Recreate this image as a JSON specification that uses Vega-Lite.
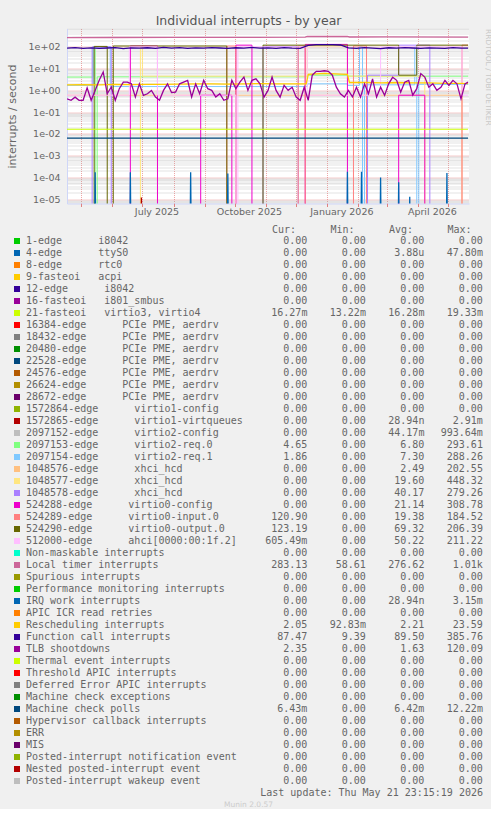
{
  "$schema": "https://vega.github.io/schema/vega-lite/v6.json",
  "background": "#f0f0f0",
  "padding": {"left": 6, "top": 14.5, "right": 0, "bottom": 0},
  "spacing": 7.5,
  "config": {
    "view": {"stroke": null},
    "font": "DejaVu Sans",
    "axis": {"labelFont": "DejaVu Sans", "labelColor": "#666666", "titleFont": "DejaVu Sans", "titleColor": "#666666", "titleFontWeight": "normal", "labelFontSize": 9.5, "titleFontSize": 11, "domainColor": "#CFD6F8", "tickColor": "#e08080"},
    "title": {"font": "DejaVu Sans", "fontWeight": "normal", "color": "#555555"}
  },
  "title": {"text": "Munin 2.0.57", "orient": "bottom", "anchor": "middle", "frame": "bounds", "fontSize": 7.5, "color": "#cccccc", "offset": 3},
  "datasets": {
    "steps": [
      {"t": "2025-04-16", "k": "2097153-edge", "v": 4.1}, {"t": "2025-05-13", "k": "2097153-edge", "v": 100}, {"t": "2025-05-15", "k": "2097153-edge", "v": 0}, {"t": "2025-05-17", "k": "2097153-edge", "v": 4.2}, {"t": "2025-12-12", "k": "2097153-edge", "v": 5.0}, {"t": "2026-01-21", "k": "2097153-edge", "v": 4.5}, {"t": "2026-05-21", "k": "2097153-edge", "v": 4.65},
      {"t": "2025-04-16", "k": "2097154-edge", "v": 1.7}, {"t": "2025-05-13", "k": "2097154-edge", "v": 100}, {"t": "2025-05-30", "k": "2097154-edge", "v": 1.5}, {"t": "2025-12-12", "k": "2097154-edge", "v": 2.0}, {"t": "2026-01-21", "k": "2097154-edge", "v": 1.7}, {"t": "2026-02-02", "k": "2097154-edge", "v": 100}, {"t": "2026-02-05", "k": "2097154-edge", "v": 0}, {"t": "2026-02-07", "k": "2097154-edge", "v": 1.8}, {"t": "2026-03-29", "k": "2097154-edge", "v": 100}, {"t": "2026-03-31", "k": "2097154-edge", "v": 0}, {"t": "2026-04-02", "k": "2097154-edge", "v": 1.9}, {"t": "2026-05-21", "k": "2097154-edge", "v": 1.86},
      {"t": "2025-04-16", "k": "1048576-edge", "v": 0.6}, {"t": "2026-05-15", "k": "1048576-edge", "v": 0}, {"t": "2026-05-21", "k": "1048576-edge", "v": 0},
      {"t": "2025-04-16", "k": "1048577-edge", "v": 0}, {"t": "2025-06-29", "k": "1048577-edge", "v": 100}, {"t": "2025-07-01", "k": "1048577-edge", "v": 4.5}, {"t": "2025-12-12", "k": "1048577-edge", "v": 110}, {"t": "2026-01-21", "k": "1048577-edge", "v": 4.5}, {"t": "2026-04-08", "k": "1048577-edge", "v": 0}, {"t": "2026-05-21", "k": "1048577-edge", "v": 0},
      {"t": "2025-04-16", "k": "1048578-edge", "v": 0}, {"t": "2025-05-12", "k": "1048578-edge", "v": 100}, {"t": "2025-05-31", "k": "1048578-edge", "v": 0}, {"t": "2025-10-29", "k": "1048578-edge", "v": 105}, {"t": "2025-12-03", "k": "1048578-edge", "v": 0}, {"t": "2026-02-10", "k": "1048578-edge", "v": 5}, {"t": "2026-03-13", "k": "1048578-edge", "v": 120}, {"t": "2026-04-13", "k": "1048578-edge", "v": 0}, {"t": "2026-05-21", "k": "1048578-edge", "v": 0},
      {"t": "2025-04-16", "k": "524288-edge", "v": 0}, {"t": "2025-06-19", "k": "524288-edge", "v": 110}, {"t": "2025-07-16", "k": "524288-edge", "v": 0}, {"t": "2025-08-28", "k": "524288-edge", "v": 0.6}, {"t": "2025-09-28", "k": "524288-edge", "v": 0}, {"t": "2025-10-02", "k": "524288-edge", "v": 120}, {"t": "2025-10-18", "k": "524288-edge", "v": 0}, {"t": "2025-12-10", "k": "524288-edge", "v": 130}, {"t": "2026-01-21", "k": "524288-edge", "v": 0}, {"t": "2026-03-13", "k": "524288-edge", "v": 0.6}, {"t": "2026-04-08", "k": "524288-edge", "v": 0}, {"t": "2026-05-21", "k": "524288-edge", "v": 0},
      {"t": "2025-04-16", "k": "524289-edge", "v": 0}, {"t": "2025-09-23", "k": "524289-edge", "v": 110}, {"t": "2025-10-02", "k": "524289-edge", "v": 0}, {"t": "2025-12-03", "k": "524289-edge", "v": 110}, {"t": "2025-12-10", "k": "524289-edge", "v": 0}, {"t": "2026-01-27", "k": "524289-edge", "v": 110}, {"t": "2026-02-09", "k": "524289-edge", "v": 0}, {"t": "2026-05-15", "k": "524289-edge", "v": 121}, {"t": "2026-05-21", "k": "524289-edge", "v": 120.9},
      {"t": "2025-04-16", "k": "524290-edge", "v": 0}, {"t": "2025-05-14", "k": "524290-edge", "v": 105}, {"t": "2025-05-27", "k": "524290-edge", "v": 0}, {"t": "2025-06-02", "k": "524290-edge", "v": 110}, {"t": "2025-09-23", "k": "524290-edge", "v": 0}, {"t": "2025-10-29", "k": "524290-edge", "v": 120}, {"t": "2026-03-13", "k": "524290-edge", "v": 5}, {"t": "2026-03-31", "k": "524290-edge", "v": 120}, {"t": "2026-05-21", "k": "524290-edge", "v": 123},
      {"t": "2025-04-16", "k": "512000-edge", "v": 0.6}, {"t": "2025-06-18", "k": "512000-edge", "v": 100}, {"t": "2025-07-16", "k": "512000-edge", "v": 0.6}, {"t": "2025-10-02", "k": "512000-edge", "v": 0}, {"t": "2025-10-04", "k": "512000-edge", "v": 100}, {"t": "2025-12-12", "k": "512000-edge", "v": 0.6}, {"t": "2026-02-23", "k": "512000-edge", "v": 100}, {"t": "2026-05-15", "k": "512000-edge", "v": 0.6}, {"t": "2026-05-21", "k": "512000-edge", "v": 0.6}
    ],
    "lines": [
      {"t": "2025-04-16", "k": "Local timer interrupts", "v": 268}, {"t": "2025-06-01", "k": "Local timer interrupts", "v": 270}, {"t": "2025-08-01", "k": "Local timer interrupts", "v": 272}, {"t": "2025-10-01", "k": "Local timer interrupts", "v": 275}, {"t": "2025-12-10", "k": "Local timer interrupts", "v": 278}, {"t": "2025-12-12", "k": "Local timer interrupts", "v": 300}, {"t": "2026-01-21", "k": "Local timer interrupts", "v": 302}, {"t": "2026-01-23", "k": "Local timer interrupts", "v": 285}, {"t": "2026-03-01", "k": "Local timer interrupts", "v": 286}, {"t": "2026-05-21", "k": "Local timer interrupts", "v": 283},
      {"t": "2025-04-17", "k": "Function call interrupts", "v": 88}, {"t": "2025-04-25", "k": "Function call interrupts", "v": 92}, {"t": "2025-05-03", "k": "Function call interrupts", "v": 86}, {"t": "2025-05-11", "k": "Function call interrupts", "v": 90}, {"t": "2025-05-19", "k": "Function call interrupts", "v": 85}, {"t": "2025-05-27", "k": "Function call interrupts", "v": 89}, {"t": "2025-06-04", "k": "Function call interrupts", "v": 93}, {"t": "2025-06-12", "k": "Function call interrupts", "v": 84}, {"t": "2025-06-20", "k": "Function call interrupts", "v": 90}, {"t": "2025-06-28", "k": "Function call interrupts", "v": 87}, {"t": "2025-07-06", "k": "Function call interrupts", "v": 91}, {"t": "2025-07-14", "k": "Function call interrupts", "v": 86}, {"t": "2025-07-22", "k": "Function call interrupts", "v": 95}, {"t": "2025-07-30", "k": "Function call interrupts", "v": 88}, {"t": "2025-08-07", "k": "Function call interrupts", "v": 92}, {"t": "2025-08-15", "k": "Function call interrupts", "v": 85}, {"t": "2025-08-23", "k": "Function call interrupts", "v": 90}, {"t": "2025-08-31", "k": "Function call interrupts", "v": 87}, {"t": "2025-09-08", "k": "Function call interrupts", "v": 93}, {"t": "2025-09-16", "k": "Function call interrupts", "v": 89}, {"t": "2025-09-24", "k": "Function call interrupts", "v": 86}, {"t": "2025-10-02", "k": "Function call interrupts", "v": 91}, {"t": "2025-10-10", "k": "Function call interrupts", "v": 88}, {"t": "2025-10-18", "k": "Function call interrupts", "v": 94}, {"t": "2025-10-26", "k": "Function call interrupts", "v": 87}, {"t": "2025-11-03", "k": "Function call interrupts", "v": 90}, {"t": "2025-11-11", "k": "Function call interrupts", "v": 85}, {"t": "2025-11-19", "k": "Function call interrupts", "v": 92}, {"t": "2025-11-27", "k": "Function call interrupts", "v": 88}, {"t": "2025-12-05", "k": "Function call interrupts", "v": 86}, {"t": "2025-12-13", "k": "Function call interrupts", "v": 118}, {"t": "2025-12-21", "k": "Function call interrupts", "v": 126}, {"t": "2025-12-29", "k": "Function call interrupts", "v": 128}, {"t": "2026-01-06", "k": "Function call interrupts", "v": 127}, {"t": "2026-01-14", "k": "Function call interrupts", "v": 122}, {"t": "2026-01-22", "k": "Function call interrupts", "v": 90}, {"t": "2026-01-30", "k": "Function call interrupts", "v": 86}, {"t": "2026-02-07", "k": "Function call interrupts", "v": 92}, {"t": "2026-02-15", "k": "Function call interrupts", "v": 88}, {"t": "2026-02-23", "k": "Function call interrupts", "v": 84}, {"t": "2026-03-03", "k": "Function call interrupts", "v": 91}, {"t": "2026-03-11", "k": "Function call interrupts", "v": 87}, {"t": "2026-03-19", "k": "Function call interrupts", "v": 93}, {"t": "2026-03-27", "k": "Function call interrupts", "v": 89}, {"t": "2026-04-04", "k": "Function call interrupts", "v": 85}, {"t": "2026-04-12", "k": "Function call interrupts", "v": 90}, {"t": "2026-04-20", "k": "Function call interrupts", "v": 88}, {"t": "2026-04-28", "k": "Function call interrupts", "v": 86}, {"t": "2026-05-06", "k": "Function call interrupts", "v": 92}, {"t": "2026-05-14", "k": "Function call interrupts", "v": 87}, {"t": "2026-05-21", "k": "Function call interrupts", "v": 87.5},
      {"t": "2025-04-17", "k": "Rescheduling interrupts", "v": 1.8}, {"t": "2025-05-03", "k": "Rescheduling interrupts", "v": 1.85}, {"t": "2025-05-19", "k": "Rescheduling interrupts", "v": 1.8}, {"t": "2025-06-04", "k": "Rescheduling interrupts", "v": 1.9}, {"t": "2025-06-20", "k": "Rescheduling interrupts", "v": 1.85}, {"t": "2025-07-06", "k": "Rescheduling interrupts", "v": 1.9}, {"t": "2025-07-22", "k": "Rescheduling interrupts", "v": 1.9}, {"t": "2025-08-07", "k": "Rescheduling interrupts", "v": 1.95}, {"t": "2025-08-23", "k": "Rescheduling interrupts", "v": 2.0}, {"t": "2025-09-08", "k": "Rescheduling interrupts", "v": 2.0}, {"t": "2025-09-24", "k": "Rescheduling interrupts", "v": 1.95}, {"t": "2025-10-10", "k": "Rescheduling interrupts", "v": 2.0}, {"t": "2025-10-26", "k": "Rescheduling interrupts", "v": 2.05}, {"t": "2025-11-11", "k": "Rescheduling interrupts", "v": 2.0}, {"t": "2025-11-27", "k": "Rescheduling interrupts", "v": 2.0}, {"t": "2025-12-11", "k": "Rescheduling interrupts", "v": 2.0}, {"t": "2025-12-13", "k": "Rescheduling interrupts", "v": 5.5}, {"t": "2025-12-29", "k": "Rescheduling interrupts", "v": 6.0}, {"t": "2026-01-14", "k": "Rescheduling interrupts", "v": 5.6}, {"t": "2026-01-21", "k": "Rescheduling interrupts", "v": 5.4}, {"t": "2026-01-23", "k": "Rescheduling interrupts", "v": 2.3}, {"t": "2026-02-08", "k": "Rescheduling interrupts", "v": 2.3}, {"t": "2026-02-24", "k": "Rescheduling interrupts", "v": 2.2}, {"t": "2026-03-12", "k": "Rescheduling interrupts", "v": 2.3}, {"t": "2026-03-28", "k": "Rescheduling interrupts", "v": 2.2}, {"t": "2026-04-13", "k": "Rescheduling interrupts", "v": 2.2}, {"t": "2026-04-29", "k": "Rescheduling interrupts", "v": 2.1}, {"t": "2026-05-15", "k": "Rescheduling interrupts", "v": 2.1}, {"t": "2026-05-21", "k": "Rescheduling interrupts", "v": 2.05},
      {"t": "2025-04-16", "k": "4-edge", "v": 0}, {"t": "2025-05-14", "k": "4-edge", "v": 0}, {"t": "2025-05-15", "k": "4-edge", "v": 0.00017}, {"t": "2025-05-16", "k": "4-edge", "v": 0}, {"t": "2025-06-18", "k": "4-edge", "v": 0}, {"t": "2025-06-19", "k": "4-edge", "v": 0.00017}, {"t": "2025-06-20", "k": "4-edge", "v": 0}, {"t": "2025-08-17", "k": "4-edge", "v": 0}, {"t": "2025-08-18", "k": "4-edge", "v": 0.00017}, {"t": "2025-08-19", "k": "4-edge", "v": 0}, {"t": "2025-09-23", "k": "4-edge", "v": 0}, {"t": "2025-09-24", "k": "4-edge", "v": 0.00015}, {"t": "2025-09-25", "k": "4-edge", "v": 0}, {"t": "2026-01-20", "k": "4-edge", "v": 0}, {"t": "2026-01-21", "k": "4-edge", "v": 0.00018}, {"t": "2026-01-22", "k": "4-edge", "v": 0}, {"t": "2026-02-03", "k": "4-edge", "v": 0}, {"t": "2026-02-04", "k": "4-edge", "v": 0.00018}, {"t": "2026-02-05", "k": "4-edge", "v": 0}, {"t": "2026-02-22", "k": "4-edge", "v": 0}, {"t": "2026-02-23", "k": "4-edge", "v": 0.0001}, {"t": "2026-02-24", "k": "4-edge", "v": 0}, {"t": "2026-03-12", "k": "4-edge", "v": 0}, {"t": "2026-03-13", "k": "4-edge", "v": 0.00006}, {"t": "2026-03-14", "k": "4-edge", "v": 0}, {"t": "2026-03-23", "k": "4-edge", "v": 0}, {"t": "2026-03-24", "k": "4-edge", "v": 0.000013}, {"t": "2026-03-25", "k": "4-edge", "v": 0}, {"t": "2026-04-29", "k": "4-edge", "v": 0}, {"t": "2026-04-30", "k": "4-edge", "v": 0.00016}, {"t": "2026-05-01", "k": "4-edge", "v": 0}, {"t": "2026-05-21", "k": "4-edge", "v": 0},
      {"t": "2025-04-16", "k": "1572865-edge", "v": 0}, {"t": "2025-06-29", "k": "1572865-edge", "v": 0}, {"t": "2025-06-30", "k": "1572865-edge", "v": 0.000012}, {"t": "2025-07-01", "k": "1572865-edge", "v": 0}, {"t": "2026-05-21", "k": "1572865-edge", "v": 0},
      {"t": "2025-04-17", "k": "TLB shootdowns", "v": 0.41}, {"t": "2025-04-21", "k": "TLB shootdowns", "v": 0.35}, {"t": "2025-04-25", "k": "TLB shootdowns", "v": 0.49}, {"t": "2025-04-29", "k": "TLB shootdowns", "v": 0.35}, {"t": "2025-05-03", "k": "TLB shootdowns", "v": 0.35}, {"t": "2025-05-07", "k": "TLB shootdowns", "v": 1.3}, {"t": "2025-05-11", "k": "TLB shootdowns", "v": 0.35}, {"t": "2025-05-15", "k": "TLB shootdowns", "v": 1.0}, {"t": "2025-05-19", "k": "TLB shootdowns", "v": 2.9}, {"t": "2025-05-23", "k": "TLB shootdowns", "v": 7.0}, {"t": "2025-05-27", "k": "TLB shootdowns", "v": 0.7}, {"t": "2025-05-31", "k": "TLB shootdowns", "v": 1.43}, {"t": "2025-06-04", "k": "TLB shootdowns", "v": 0.35}, {"t": "2025-06-08", "k": "TLB shootdowns", "v": 1.2}, {"t": "2025-06-12", "k": "TLB shootdowns", "v": 2.4}, {"t": "2025-06-16", "k": "TLB shootdowns", "v": 2.4}, {"t": "2025-06-20", "k": "TLB shootdowns", "v": 2.0}, {"t": "2025-06-24", "k": "TLB shootdowns", "v": 0.49}, {"t": "2025-06-28", "k": "TLB shootdowns", "v": 2.0}, {"t": "2025-07-02", "k": "TLB shootdowns", "v": 0.59}, {"t": "2025-07-06", "k": "TLB shootdowns", "v": 0.7}, {"t": "2025-07-10", "k": "TLB shootdowns", "v": 1.0}, {"t": "2025-07-14", "k": "TLB shootdowns", "v": 0.49}, {"t": "2025-07-18", "k": "TLB shootdowns", "v": 0.35}, {"t": "2025-07-22", "k": "TLB shootdowns", "v": 1.0}, {"t": "2025-07-26", "k": "TLB shootdowns", "v": 2.0}, {"t": "2025-07-30", "k": "TLB shootdowns", "v": 0.8}, {"t": "2025-08-03", "k": "TLB shootdowns", "v": 0.84}, {"t": "2025-08-07", "k": "TLB shootdowns", "v": 2.0}, {"t": "2025-08-11", "k": "TLB shootdowns", "v": 2.4}, {"t": "2025-08-15", "k": "TLB shootdowns", "v": 2.9}, {"t": "2025-08-19", "k": "TLB shootdowns", "v": 0.5}, {"t": "2025-08-23", "k": "TLB shootdowns", "v": 2.0}, {"t": "2025-08-27", "k": "TLB shootdowns", "v": 0.7}, {"t": "2025-08-31", "k": "TLB shootdowns", "v": 2.9}, {"t": "2025-09-04", "k": "TLB shootdowns", "v": 1.2}, {"t": "2025-09-08", "k": "TLB shootdowns", "v": 1.0}, {"t": "2025-09-12", "k": "TLB shootdowns", "v": 0.49}, {"t": "2025-09-16", "k": "TLB shootdowns", "v": 0.7}, {"t": "2025-09-20", "k": "TLB shootdowns", "v": 0.35}, {"t": "2025-09-24", "k": "TLB shootdowns", "v": 0.41}, {"t": "2025-09-28", "k": "TLB shootdowns", "v": 2.9}, {"t": "2025-10-02", "k": "TLB shootdowns", "v": 1.2}, {"t": "2025-10-06", "k": "TLB shootdowns", "v": 2.4}, {"t": "2025-10-10", "k": "TLB shootdowns", "v": 4.1}, {"t": "2025-10-14", "k": "TLB shootdowns", "v": 1.0}, {"t": "2025-10-18", "k": "TLB shootdowns", "v": 2.9}, {"t": "2025-10-22", "k": "TLB shootdowns", "v": 3.4}, {"t": "2025-10-26", "k": "TLB shootdowns", "v": 2.0}, {"t": "2025-10-30", "k": "TLB shootdowns", "v": 0.49}, {"t": "2025-11-03", "k": "TLB shootdowns", "v": 1.0}, {"t": "2025-11-07", "k": "TLB shootdowns", "v": 4.1}, {"t": "2025-11-11", "k": "TLB shootdowns", "v": 1.0}, {"t": "2025-11-15", "k": "TLB shootdowns", "v": 0.49}, {"t": "2025-11-19", "k": "TLB shootdowns", "v": 1.7}, {"t": "2025-11-23", "k": "TLB shootdowns", "v": 1.0}, {"t": "2025-11-27", "k": "TLB shootdowns", "v": 1.4}, {"t": "2025-12-01", "k": "TLB shootdowns", "v": 0.49}, {"t": "2025-12-05", "k": "TLB shootdowns", "v": 0.35}, {"t": "2025-12-09", "k": "TLB shootdowns", "v": 1.4}, {"t": "2025-12-13", "k": "TLB shootdowns", "v": 0.35}, {"t": "2025-12-17", "k": "TLB shootdowns", "v": 5.0}, {"t": "2025-12-21", "k": "TLB shootdowns", "v": 7.5}, {"t": "2025-12-25", "k": "TLB shootdowns", "v": 7.5}, {"t": "2025-12-29", "k": "TLB shootdowns", "v": 8.0}, {"t": "2026-01-02", "k": "TLB shootdowns", "v": 7.5}, {"t": "2026-01-06", "k": "TLB shootdowns", "v": 5.0}, {"t": "2026-01-10", "k": "TLB shootdowns", "v": 1.4}, {"t": "2026-01-14", "k": "TLB shootdowns", "v": 0.7}, {"t": "2026-01-18", "k": "TLB shootdowns", "v": 0.49}, {"t": "2026-01-22", "k": "TLB shootdowns", "v": 1.0}, {"t": "2026-01-26", "k": "TLB shootdowns", "v": 0.5}, {"t": "2026-01-30", "k": "TLB shootdowns", "v": 1.4}, {"t": "2026-02-03", "k": "TLB shootdowns", "v": 0.49}, {"t": "2026-02-07", "k": "TLB shootdowns", "v": 2.0}, {"t": "2026-02-11", "k": "TLB shootdowns", "v": 0.7}, {"t": "2026-02-15", "k": "TLB shootdowns", "v": 3.4}, {"t": "2026-02-19", "k": "TLB shootdowns", "v": 0.49}, {"t": "2026-02-23", "k": "TLB shootdowns", "v": 1.4}, {"t": "2026-02-27", "k": "TLB shootdowns", "v": 0.59}, {"t": "2026-03-03", "k": "TLB shootdowns", "v": 2.0}, {"t": "2026-03-07", "k": "TLB shootdowns", "v": 4.0}, {"t": "2026-03-11", "k": "TLB shootdowns", "v": 2.9}, {"t": "2026-03-15", "k": "TLB shootdowns", "v": 0.84}, {"t": "2026-03-19", "k": "TLB shootdowns", "v": 2.4}, {"t": "2026-03-23", "k": "TLB shootdowns", "v": 2.9}, {"t": "2026-03-27", "k": "TLB shootdowns", "v": 0.6}, {"t": "2026-03-31", "k": "TLB shootdowns", "v": 1.2}, {"t": "2026-04-04", "k": "TLB shootdowns", "v": 5.9}, {"t": "2026-04-08", "k": "TLB shootdowns", "v": 4.1}, {"t": "2026-04-12", "k": "TLB shootdowns", "v": 1.4}, {"t": "2026-04-16", "k": "TLB shootdowns", "v": 2.0}, {"t": "2026-04-20", "k": "TLB shootdowns", "v": 1.0}, {"t": "2026-04-24", "k": "TLB shootdowns", "v": 1.4}, {"t": "2026-04-28", "k": "TLB shootdowns", "v": 2.9}, {"t": "2026-05-02", "k": "TLB shootdowns", "v": 1.7}, {"t": "2026-05-06", "k": "TLB shootdowns", "v": 2.9}, {"t": "2026-05-10", "k": "TLB shootdowns", "v": 2.0}, {"t": "2026-05-14", "k": "TLB shootdowns", "v": 0.41}, {"t": "2026-05-18", "k": "TLB shootdowns", "v": 2.0}, {"t": "2026-05-21", "k": "TLB shootdowns", "v": 2.4}
    ],
    "flat": [
      {"t": "2025-04-16", "k": "21-fasteoi", "v": 0.0163}, {"t": "2026-05-21", "k": "21-fasteoi", "v": 0.0163},
      {"t": "2025-04-16", "k": "Machine check polls", "v": 0.0064}, {"t": "2026-05-21", "k": "Machine check polls", "v": 0.0064}
    ],
    "legend": [
      {"k": "1-edge", "label": "1-edge\u00a0\u00a0\u00a0\u00a0\u00a0\u00a0i8042", "cur": "0.00", "min": "0.00", "avg": "0.00", "max": "0.00"},
      {"k": "4-edge", "label": "4-edge\u00a0\u00a0\u00a0\u00a0\u00a0\u00a0ttyS0", "cur": "0.00", "min": "0.00", "avg": "3.88u", "max": "47.80m"},
      {"k": "8-edge", "label": "8-edge\u00a0\u00a0\u00a0\u00a0\u00a0\u00a0rtc0", "cur": "0.00", "min": "0.00", "avg": "0.00", "max": "0.00"},
      {"k": "9-fasteoi", "label": "9-fasteoi\u00a0\u00a0\u00a0acpi", "cur": "0.00", "min": "0.00", "avg": "0.00", "max": "0.00"},
      {"k": "12-edge", "label": "12-edge\u00a0\u00a0\u00a0\u00a0\u00a0\u00a0i8042", "cur": "0.00", "min": "0.00", "avg": "0.00", "max": "0.00"},
      {"k": "16-fasteoi", "label": "16-fasteoi\u00a0\u00a0\u00a0i801_smbus", "cur": "0.00", "min": "0.00", "avg": "0.00", "max": "0.00"},
      {"k": "21-fasteoi", "label": "21-fasteoi\u00a0\u00a0\u00a0virtio3, virtio4", "cur": "16.27m", "min": "13.22m", "avg": "16.28m", "max": "19.33m"},
      {"k": "16384-edge", "label": "16384-edge\u00a0\u00a0\u00a0\u00a0\u00a0\u00a0PCIe PME, aerdrv", "cur": "0.00", "min": "0.00", "avg": "0.00", "max": "0.00"},
      {"k": "18432-edge", "label": "18432-edge\u00a0\u00a0\u00a0\u00a0\u00a0\u00a0PCIe PME, aerdrv", "cur": "0.00", "min": "0.00", "avg": "0.00", "max": "0.00"},
      {"k": "20480-edge", "label": "20480-edge\u00a0\u00a0\u00a0\u00a0\u00a0\u00a0PCIe PME, aerdrv", "cur": "0.00", "min": "0.00", "avg": "0.00", "max": "0.00"},
      {"k": "22528-edge", "label": "22528-edge\u00a0\u00a0\u00a0\u00a0\u00a0\u00a0PCIe PME, aerdrv", "cur": "0.00", "min": "0.00", "avg": "0.00", "max": "0.00"},
      {"k": "24576-edge", "label": "24576-edge\u00a0\u00a0\u00a0\u00a0\u00a0\u00a0PCIe PME, aerdrv", "cur": "0.00", "min": "0.00", "avg": "0.00", "max": "0.00"},
      {"k": "26624-edge", "label": "26624-edge\u00a0\u00a0\u00a0\u00a0\u00a0\u00a0PCIe PME, aerdrv", "cur": "0.00", "min": "0.00", "avg": "0.00", "max": "0.00"},
      {"k": "28672-edge", "label": "28672-edge\u00a0\u00a0\u00a0\u00a0\u00a0\u00a0PCIe PME, aerdrv", "cur": "0.00", "min": "0.00", "avg": "0.00", "max": "0.00"},
      {"k": "1572864-edge", "label": "1572864-edge\u00a0\u00a0\u00a0\u00a0\u00a0\u00a0virtio1-config", "cur": "0.00", "min": "0.00", "avg": "0.00", "max": "0.00"},
      {"k": "1572865-edge", "label": "1572865-edge\u00a0\u00a0\u00a0\u00a0\u00a0\u00a0virtio1-virtqueues", "cur": "0.00", "min": "0.00", "avg": "28.94n", "max": "2.91m"},
      {"k": "2097152-edge", "label": "2097152-edge\u00a0\u00a0\u00a0\u00a0\u00a0\u00a0virtio2-config", "cur": "0.00", "min": "0.00", "avg": "44.17m", "max": "993.64m"},
      {"k": "2097153-edge", "label": "2097153-edge\u00a0\u00a0\u00a0\u00a0\u00a0\u00a0virtio2-req.0", "cur": "4.65", "min": "0.00", "avg": "6.80", "max": "293.61"},
      {"k": "2097154-edge", "label": "2097154-edge\u00a0\u00a0\u00a0\u00a0\u00a0\u00a0virtio2-req.1", "cur": "1.86", "min": "0.00", "avg": "7.30", "max": "288.26"},
      {"k": "1048576-edge", "label": "1048576-edge\u00a0\u00a0\u00a0\u00a0\u00a0\u00a0xhci_hcd", "cur": "0.00", "min": "0.00", "avg": "2.49", "max": "202.55"},
      {"k": "1048577-edge", "label": "1048577-edge\u00a0\u00a0\u00a0\u00a0\u00a0\u00a0xhci_hcd", "cur": "0.00", "min": "0.00", "avg": "19.60", "max": "448.32"},
      {"k": "1048578-edge", "label": "1048578-edge\u00a0\u00a0\u00a0\u00a0\u00a0\u00a0xhci_hcd", "cur": "0.00", "min": "0.00", "avg": "40.17", "max": "279.26"},
      {"k": "524288-edge", "label": "524288-edge\u00a0\u00a0\u00a0\u00a0\u00a0\u00a0virtio0-config", "cur": "0.00", "min": "0.00", "avg": "21.14", "max": "308.78"},
      {"k": "524289-edge", "label": "524289-edge\u00a0\u00a0\u00a0\u00a0\u00a0\u00a0virtio0-input.0", "cur": "120.90", "min": "0.00", "avg": "19.38", "max": "184.52"},
      {"k": "524290-edge", "label": "524290-edge\u00a0\u00a0\u00a0\u00a0\u00a0\u00a0virtio0-output.0", "cur": "123.19", "min": "0.00", "avg": "69.32", "max": "206.39"},
      {"k": "512000-edge", "label": "512000-edge\u00a0\u00a0\u00a0\u00a0\u00a0\u00a0ahci[0000:00:1f.2]", "cur": "605.49m", "min": "0.00", "avg": "50.22", "max": "211.22"},
      {"k": "Non-maskable interrupts", "label": "Non-maskable interrupts", "cur": "0.00", "min": "0.00", "avg": "0.00", "max": "0.00"},
      {"k": "Local timer interrupts", "label": "Local timer interrupts", "cur": "283.13", "min": "58.61", "avg": "276.62", "max": "1.01k"},
      {"k": "Spurious interrupts", "label": "Spurious interrupts", "cur": "0.00", "min": "0.00", "avg": "0.00", "max": "0.00"},
      {"k": "Performance monitoring interrupts", "label": "Performance monitoring interrupts", "cur": "0.00", "min": "0.00", "avg": "0.00", "max": "0.00"},
      {"k": "IRQ work interrupts", "label": "IRQ work interrupts", "cur": "0.00", "min": "0.00", "avg": "28.94n", "max": "3.15m"},
      {"k": "APIC ICR read retries", "label": "APIC ICR read retries", "cur": "0.00", "min": "0.00", "avg": "0.00", "max": "0.00"},
      {"k": "Rescheduling interrupts", "label": "Rescheduling interrupts", "cur": "2.05", "min": "92.83m", "avg": "2.21", "max": "23.59"},
      {"k": "Function call interrupts", "label": "Function call interrupts", "cur": "87.47", "min": "9.39", "avg": "89.50", "max": "385.76"},
      {"k": "TLB shootdowns", "label": "TLB shootdowns", "cur": "2.35", "min": "0.00", "avg": "1.63", "max": "120.09"},
      {"k": "Thermal event interrupts", "label": "Thermal event interrupts", "cur": "0.00", "min": "0.00", "avg": "0.00", "max": "0.00"},
      {"k": "Threshold APIC interrupts", "label": "Threshold APIC interrupts", "cur": "0.00", "min": "0.00", "avg": "0.00", "max": "0.00"},
      {"k": "Deferred Error APIC interrupts", "label": "Deferred Error APIC interrupts", "cur": "0.00", "min": "0.00", "avg": "0.00", "max": "0.00"},
      {"k": "Machine check exceptions", "label": "Machine check exceptions", "cur": "0.00", "min": "0.00", "avg": "0.00", "max": "0.00"},
      {"k": "Machine check polls", "label": "Machine check polls", "cur": "6.43m", "min": "0.00", "avg": "6.42m", "max": "12.22m"},
      {"k": "Hypervisor callback interrupts", "label": "Hypervisor callback interrupts", "cur": "0.00", "min": "0.00", "avg": "0.00", "max": "0.00"},
      {"k": "ERR", "label": "ERR", "cur": "0.00", "min": "0.00", "avg": "0.00", "max": "0.00"},
      {"k": "MIS", "label": "MIS", "cur": "0.00", "min": "0.00", "avg": "0.00", "max": "0.00"},
      {"k": "Posted-interrupt notification event", "label": "Posted-interrupt notification event", "cur": "0.00", "min": "0.00", "avg": "0.00", "max": "0.00"},
      {"k": "Nested posted-interrupt event", "label": "Nested posted-interrupt event", "cur": "0.00", "min": "0.00", "avg": "0.00", "max": "0.00"},
      {"k": "Posted-interrupt wakeup event", "label": "Posted-interrupt wakeup event", "cur": "0.00", "min": "0.00", "avg": "0.00", "max": "0.00"}
    ]
  },
  "vconcat": [
    {
      "title": {"text": "Individual interrupts - by year", "anchor": "middle", "frame": "bounds", "fontSize": 12.5, "offset": 1.3},
      "width": 402,
      "height": 175,
      "view": {"fill": "white", "stroke": null},
      "resolve": {"axis": {"x": "independent", "y": "independent"}},
      "layer": [
        {
          "data": {"name": "steps"},
          "transform": [{"calculate": "max(datum.v, 1e-9)", "as": "vp"}],
          "mark": {"type": "line", "interpolate": "step-after", "strokeWidth": 1, "clip": true},
          "encoding": {
            "x": {"field": "t", "type": "temporal",
              "scale": {"type": "utc", "domain": [{"year": 2025, "month": 4, "date": 16, "hours": 23, "minutes": 15, "utc": true}, {"year": 2026, "month": 5, "date": 21, "hours": 23, "minutes": 15, "utc": true}]},
              "axis": {"orient": "bottom", "title": null, "values": [{"year": 2025, "month": 7, "date": 15, "utc": true}, {"year": 2025, "month": 10, "date": 15, "utc": true}, {"year": 2026, "month": 1, "date": 15, "utc": true}, {"year": 2026, "month": 4, "date": 15, "utc": true}], "labelExpr": "utcFormat(datum.value, '%B %Y')", "grid": false, "ticks": false, "labelPadding": 3, "labelFlush": false, "labelOverlap": false, "domain": true}},
            "y": {"field": "vp", "type": "quantitative",
              "scale": {"type": "log", "domain": [0.0000063, 700], "nice": false},
              "axis": {"orient": "left", "title": "interrupts / second", "values": [0.00001, 0.0001, 0.001, 0.01, 0.1, 1, 10, 100], "labelExpr": "'1e' + (datum.value < 1 ? '-' : '+') + '0' + abs(round(log(datum.value) / LN10))", "grid": true, "gridColor": "#e05050", "gridOpacity": 0.6, "gridDash": [1, 1], "ticks": false, "labelPadding": 7, "titlePadding": 11, "domain": true}},
            "color": {"field": "k", "type": "nominal", "legend": null,
              "scale": {"domain": ["1-edge","4-edge","8-edge","9-fasteoi","12-edge","16-fasteoi","21-fasteoi","16384-edge","18432-edge","20480-edge","22528-edge","24576-edge","26624-edge","28672-edge","1572864-edge","1572865-edge","2097152-edge","2097153-edge","2097154-edge","1048576-edge","1048577-edge","1048578-edge","524288-edge","524289-edge","524290-edge","512000-edge","Non-maskable interrupts","Local timer interrupts","Spurious interrupts","Performance monitoring interrupts","IRQ work interrupts","APIC ICR read retries","Rescheduling interrupts","Function call interrupts","TLB shootdowns","Thermal event interrupts","Threshold APIC interrupts","Deferred Error APIC interrupts","Machine check exceptions","Machine check polls","Hypervisor callback interrupts","ERR","MIS","Posted-interrupt notification event","Nested posted-interrupt event","Posted-interrupt wakeup event"],
                "range": ["#00CC00","#0066B3","#FF8000","#FFCC00","#330099","#990099","#CCFF00","#FF0000","#808080","#008F00","#00487D","#B35A00","#B38F00","#6B006B","#8FB300","#B30000","#BEBEBE","#80FF80","#80C9FF","#FFC080","#FFE680","#AA80FF","#EE00CC","#FF8080","#666600","#FFBFFF","#00FFCC","#CC6699","#999900","#00CC00","#0066B3","#FF8000","#FFCC00","#330099","#990099","#CCFF00","#FF0000","#808080","#008F00","#00487D","#B35A00","#B38F00","#6B006B","#8FB300","#B30000","#BEBEBE"]}}
          }
        },
        {
          "data": {"name": "lines"},
          "transform": [{"calculate": "max(datum.v, 1e-9)", "as": "vp"}],
          "mark": {"type": "line", "strokeWidth": 1.3, "clip": true},
          "encoding": {
            "x": {"field": "t", "type": "temporal",
              "axis": {"orient": "bottom", "title": null, "labels": false, "domain": false, "ticks": true, "tickSize": 3, "grid": true, "gridColor": "#e05050", "gridOpacity": 0.5, "gridDash": [1, 1],
                "values": [{"year": 2025, "month": 5, "date": 1, "utc": true}, {"year": 2025, "month": 6, "date": 1, "utc": true}, {"year": 2025, "month": 7, "date": 1, "utc": true}, {"year": 2025, "month": 8, "date": 1, "utc": true}, {"year": 2025, "month": 9, "date": 1, "utc": true}, {"year": 2025, "month": 10, "date": 1, "utc": true}, {"year": 2025, "month": 11, "date": 1, "utc": true}, {"year": 2025, "month": 12, "date": 1, "utc": true}, {"year": 2026, "month": 1, "date": 1, "utc": true}, {"year": 2026, "month": 2, "date": 1, "utc": true}, {"year": 2026, "month": 3, "date": 1, "utc": true}, {"year": 2026, "month": 4, "date": 1, "utc": true}, {"year": 2026, "month": 5, "date": 1, "utc": true}]}},
            "y": {"field": "vp", "type": "quantitative",
              "axis": {"orient": "left", "title": null, "labels": false, "ticks": false, "domain": false, "grid": true, "gridColor": "#909090", "gridOpacity": 0.5, "gridDash": [1, 1],
                "values": [0.000007, 0.000008, 0.000009, 0.00002, 0.00003, 0.00004, 0.00005, 0.00006, 0.00007, 0.00008, 0.00009, 0.0002, 0.0003, 0.0004, 0.0005, 0.0006, 0.0007, 0.0008, 0.0009, 0.002, 0.003, 0.004, 0.005, 0.006, 0.007, 0.008, 0.009, 0.02, 0.03, 0.04, 0.05, 0.06, 0.07, 0.08, 0.09, 0.2, 0.3, 0.4, 0.5, 0.6, 0.7, 0.8, 0.9, 2, 3, 4, 5, 6, 7, 8, 9, 20, 30, 40, 50, 60, 70, 80, 90, 200, 300, 400, 500, 600, 700]}},
            "color": {"field": "k", "type": "nominal", "legend": null}
          }
        },
        {
          "data": {"name": "flat"},
          "mark": {"type": "line", "strokeWidth": 1.2, "clip": true},
          "encoding": {
            "x": {"field": "t", "type": "temporal", "axis": null},
            "y": {"field": "v", "type": "quantitative",
              "axis": {"orient": "right", "title": "RRDTOOL / TOBI OETIKER", "labels": false, "ticks": false, "domain": false, "grid": false, "titleColor": "#c8c8c8", "titleFontSize": 7.5, "titleAngle": 90, "titlePadding": 14, "titleAnchor": "end", "titleAlign": "left"}},
            "color": {"field": "k", "type": "nominal", "legend": null}
          }
        }
      ]
    },
    {
      "data": {"name": "legend"},
      "width": 416,
      "height": {"step": 12},
      "view": {"fill": null, "stroke": null},
      "title": {"text": "Last update: Thu May 21 23:15:19 2026", "orient": "bottom", "anchor": "end", "frame": "group", "font": "DejaVu Sans Mono", "fontSize": 10, "color": "#666666", "offset": 1},
      "transform": [
        {"calculate": "test(/[0-9]$/, datum.cur) ? datum.cur + '\u00a0' : datum.cur", "as": "cur_t"},
        {"calculate": "test(/[0-9]$/, datum.min) ? datum.min + '\u00a0' : datum.min", "as": "min_t"},
        {"calculate": "test(/[0-9]$/, datum.avg) ? datum.avg + '\u00a0' : datum.avg", "as": "avg_t"},
        {"calculate": "test(/[0-9]$/, datum.max) ? datum.max + '\u00a0' : datum.max", "as": "max_t"}
      ],
      "resolve": {"axis": {"x": "independent"}},
      "encoding": {"y": {"field": "k", "type": "nominal", "sort": null, "axis": null}},
      "layer": [
        {
          "mark": {"type": "square", "size": 36, "opacity": 1, "filled": true},
          "encoding": {
            "x": {"datum": -1.5, "type": "quantitative", "scale": {"domain": [6.8333, 76.1667], "nice": false, "zero": false},
              "axis": {"orient": "top", "title": null, "values": [40.9, 50.65, 60.4, 70.15], "labelExpr": "datum.value < 45 ? 'Cur:' : datum.value < 55 ? 'Min:' : datum.value < 65 ? 'Avg:' : 'Max:'", "labelAlign": "left", "labelFont": "DejaVu Sans Mono", "labelFontSize": 10, "labelColor": "#666666", "ticks": false, "domain": false, "grid": false, "labelPadding": 1, "labelFlush": false, "labelOverlap": false}},
            "color": {"field": "k", "type": "nominal", "legend": null,
              "scale": {"domain": ["1-edge","4-edge","8-edge","9-fasteoi","12-edge","16-fasteoi","21-fasteoi","16384-edge","18432-edge","20480-edge","22528-edge","24576-edge","26624-edge","28672-edge","1572864-edge","1572865-edge","2097152-edge","2097153-edge","2097154-edge","1048576-edge","1048577-edge","1048578-edge","524288-edge","524289-edge","524290-edge","512000-edge","Non-maskable interrupts","Local timer interrupts","Spurious interrupts","Performance monitoring interrupts","IRQ work interrupts","APIC ICR read retries","Rescheduling interrupts","Function call interrupts","TLB shootdowns","Thermal event interrupts","Threshold APIC interrupts","Deferred Error APIC interrupts","Machine check exceptions","Machine check polls","Hypervisor callback interrupts","ERR","MIS","Posted-interrupt notification event","Nested posted-interrupt event","Posted-interrupt wakeup event"],
                "range": ["#00CC00","#0066B3","#FF8000","#FFCC00","#330099","#990099","#CCFF00","#FF0000","#808080","#008F00","#00487D","#B35A00","#B38F00","#6B006B","#8FB300","#B30000","#BEBEBE","#80FF80","#80C9FF","#FFC080","#FFE680","#AA80FF","#EE00CC","#FF8080","#666600","#FFBFFF","#00FFCC","#CC6699","#999900","#00CC00","#0066B3","#FF8000","#FFCC00","#330099","#990099","#CCFF00","#FF0000","#808080","#008F00","#00487D","#B35A00","#B38F00","#6B006B","#8FB300","#B30000","#BEBEBE"]}}
          }
        },
        {
          "mark": {"type": "text", "align": "left", "baseline": "middle", "font": "DejaVu Sans Mono", "fontSize": 10, "color": "#666666"},
          "encoding": {"x": {"datum": 0, "type": "quantitative", "axis": null}, "text": {"field": "label"}}
        },
        {
          "mark": {"type": "text", "align": "right", "baseline": "middle", "font": "DejaVu Sans Mono", "fontSize": 10, "color": "#666666"},
          "encoding": {"x": {"datum": 46.9, "type": "quantitative", "axis": null}, "text": {"field": "cur_t"}}
        },
        {
          "mark": {"type": "text", "align": "right", "baseline": "middle", "font": "DejaVu Sans Mono", "fontSize": 10, "color": "#666666"},
          "encoding": {"x": {"datum": 56.65, "type": "quantitative", "axis": null}, "text": {"field": "min_t"}}
        },
        {
          "mark": {"type": "text", "align": "right", "baseline": "middle", "font": "DejaVu Sans Mono", "fontSize": 10, "color": "#666666"},
          "encoding": {"x": {"datum": 66.4, "type": "quantitative", "axis": null}, "text": {"field": "avg_t"}}
        },
        {
          "mark": {"type": "text", "align": "right", "baseline": "middle", "font": "DejaVu Sans Mono", "fontSize": 10, "color": "#666666"},
          "encoding": {"x": {"datum": 76.15, "type": "quantitative", "axis": null}, "text": {"field": "max_t"}}
        }
      ]
    }
  ]
}
